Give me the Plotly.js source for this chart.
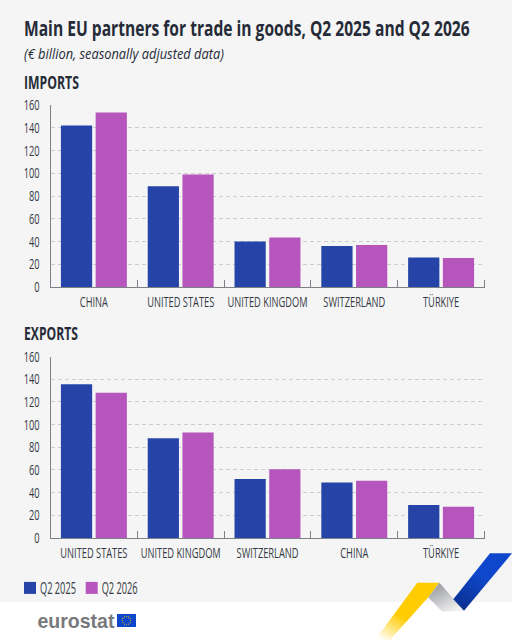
<!DOCTYPE html>
<html><head><meta charset="utf-8">
<script src="https://cdn.plot.ly/plotly-3.0.1.min.js"></script>
<style>html,body{margin:0;padding:0;background:#f5f5f5}#c{width:512px;height:640px}</style>
</head><body><div id="c"></div>
<script>
const importPartners = ["CHINA","UNITED STATES","UNITED KINGDOM","SWITZERLAND","TÜRKIYE"];
const imports2025 = [142,88.5,40,36,26];
const imports2026 = [153.5,99,43.5,37,25.5];
const exportPartners = ["UNITED STATES","UNITED KINGDOM","SWITZERLAND","CHINA","TÜRKIYE"];
const exports2025 = [135.5,88,52,49,29];
const exports2026 = [128,93,60.5,50.5,27.5];
const seriesNames = ["Q2 2025","Q2 2026"];
const yTicks = [0,20,40,60,80,100,120,140,160];

const BLUE="#2644A7", PURPLE="#B656BD", INK="#262B38", AXIS="#7d8087", GRID="#cdcdcd", LABEL="#343943";
const SANS='"Open Sans",sans-serif';
const W=512,H=640;
const px=v=>v/W, py=v=>1-v/H;
const labelFont={family:SANS,size:14.5,color:LABEL};

function bar(name,x,y,color,xa,ya,show){
  return {type:"bar",name,x,y,xaxis:xa,yaxis:ya,showlegend:show,legendgroup:name,
    marker:{color,line:{width:0}},hoverinfo:"x+y+name"};
}
const data=[
  bar(seriesNames[0],importPartners,imports2025,BLUE,"x","y",true),
  bar(seriesNames[1],importPartners,imports2026,PURPLE,"x","y",true),
  bar(seriesNames[0],exportPartners,exports2025,BLUE,"x2","y2",false),
  bar(seriesNames[1],exportPartners,exports2026,PURPLE,"x2","y2",false)
];
const xax=(anchor)=>({anchor,domain:[px(50.5),px(484.5)],type:"category",tickson:"boundaries",
  ticks:"inside",ticklen:7,tickcolor:AXIS,tickwidth:1,showline:true,linecolor:AXIS,linewidth:1,
  showgrid:false,zeroline:false,automargin:false,tickangle:0,ticklabelstandoff:2,tickfont:labelFont});
const yax=(anchor,top,bot)=>({anchor,domain:[py(bot),py(top)],range:[0,160],tickvals:yTicks,
  ticks:"",showline:true,linecolor:AXIS,linewidth:1,zeroline:false,automargin:false,
  showgrid:true,gridcolor:GRID,griddash:"4px,3px",gridwidth:1,ticklabelstandoff:7,tickfont:labelFont});

const ribbon=`<svg xmlns="http://www.w3.org/2000/svg" width="142" height="90" viewBox="370 550 142 90">
<defs>
<linearGradient id="g" x1="0.75" y1="0.05" x2="0.1" y2="1"><stop offset="0.55" stop-color="#FFCC00"/><stop offset="1" stop-color="#FFCC00" stop-opacity="0"/></linearGradient>
<linearGradient id="s" x1="0.2" y1="0.1" x2="0.75" y2="0.95"><stop offset="0" stop-color="#9c9ea3"/><stop offset="1" stop-color="#f0f0f0"/></linearGradient>
<linearGradient id="b" x1="0.75" y1="0" x2="0.15" y2="1"><stop offset="0.4" stop-color="#0E47CB"/><stop offset="1" stop-color="#0B2F8F"/></linearGradient>
</defs>
<polygon points="417.3,582.7 439.5,582.7 428.3,597.3 390,640 375,640" fill="url(#g)"/>
<polygon points="439.5,582.7 464,611 442,611.5 428.3,597.3" fill="url(#s)"/>
<polygon points="490,553.3 512,553.3 464,610.7 453.3,599.3" fill="url(#b)"/>
</svg>`;
let stars="";
[[0,-4.2],[2.1,-3.6],[3.6,-2.1],[4.2,0],[3.6,2.1],[2.1,3.6],[0,4.2],[-2.1,3.6],[-3.6,2.1],[-4.2,0],[-3.6,-2.1],[-2.1,-3.6]].forEach(p=>{stars+=`<circle cx="${9.5+p[0]}" cy="${6.5+p[1]}" r="0.55" fill="#FFCC00"/>`;});
const flag=`<svg xmlns="http://www.w3.org/2000/svg" width="19" height="13" viewBox="0 0 19 13"><rect width="19" height="13" fill="#0E47CB"/>${stars}</svg>`;
const uri=s=>"data:image/svg+xml;charset=utf-8,"+encodeURIComponent(s);

const note=(text,x,y,font)=>({text,x:px(x),y:py(y),xref:"paper",yref:"paper",xanchor:"left",yanchor:"middle",showarrow:false,font,align:"left"});
const endTick=(bot)=>({type:"line",xref:"paper",yref:"paper",x0:px(484.5),x1:px(484.5),y0:py(bot),y1:py(bot-7),line:{color:AXIS,width:1},layer:"above"});
const layout={
  width:W,height:H,margin:{l:0,r:0,t:0,b:0},paper_bgcolor:"#f5f5f5",plot_bgcolor:"rgba(0,0,0,0)",
  bargap:0.2,bargroupgap:0.1,barmode:"group",
  title:{text:"<b>Main EU partners for trade in goods, Q2 2025 and Q2 2026</b>",x:px(24),xanchor:"left",y:py(28),yanchor:"middle",
    font:{family:SANS,size:22,color:INK}},
  xaxis:xax("y"),yaxis:yax("x",105,287),xaxis2:xax("y2"),yaxis2:yax("x2",356.5,538),
  legend:{orientation:"h",x:px(9),xanchor:"left",y:py(588),yanchor:"middle",bgcolor:"rgba(0,0,0,0)",
    font:{family:SANS,size:16,color:LABEL},itemwidth:30,traceorder:"normal",itemclick:false,itemdoubleclick:false},
  annotations:[
    note("<i>(€ billion, seasonally adjusted data)</i>",24,54,{family:SANS,size:14,color:INK}),
    note("<b>IMPORTS</b>",24,82,{family:SANS,size:17,color:INK}),
    note("<b>EXPORTS</b>",24,333,{family:SANS,size:17,color:INK}),
    note("<b>eurostat</b>",37.5,620.5,{family:'"Liberation Sans",sans-serif',size:21,color:"#77797d"})
  ],
  shapes:[{type:"rect",xref:"paper",yref:"paper",x0:0,x1:1,y0:0,y1:py(602),fillcolor:"#ffffff",line:{width:0},layer:"below"},
    endTick(287),endTick(538)],
  images:[
    {source:uri(ribbon),xref:"paper",yref:"paper",x:px(370),y:py(550),sizex:142/W,sizey:90/H,xanchor:"left",yanchor:"top",sizing:"stretch",layer:"above"},
    {source:uri(flag),xref:"paper",yref:"paper",x:px(117),y:py(614),sizex:19/W,sizey:13/H,xanchor:"left",yanchor:"top",sizing:"stretch",layer:"above"}
  ]
};

// The reference uses a condensed face that is not installed: narrow the drawn text horizontally.
function narrow(el,scale,left){
  const base=el.getAttribute("transform")||"";
  const x=parseFloat(el.getAttribute("x"))||0;
  el.setAttribute("transform",`${base} translate(${x},0) scale(${scale},1) translate(${-x},0)`);
  if(left!==undefined){
    const dx=left-el.getBoundingClientRect().left;
    el.setAttribute("transform",`${base} translate(${dx},0) translate(${x},0) scale(${scale},1) translate(${-x},0)`);
  }
}
function fit(el,width,left){ narrow(el,width/el.getBoundingClientRect().width,left); }

Plotly.newPlot("c",data,layout,{displayModeBar:false}).then(gd=>{
  const q=s=>Array.from(gd.querySelectorAll(s));
  q(".xtick text, .x2tick text, .ytick text, .y2tick text").forEach(t=>narrow(t,0.64));
  q(".gtitle").forEach(t=>fit(t,446,24));
  const targets=[[200,24],[55,24],[54,24],[77,37.5]];
  q(".annotation-text").forEach((t,i)=>fit(t,targets[i][0],targets[i][1]));
  // legend: swatch lefts and text lefts as in the reference
  const swLeft=[24,85.7], txtLeft=[40,101.7];
  q(".legend .traces").forEach((g,i)=>{
    const sw=g.querySelector(".legendpoints path");
    const dx=swLeft[i]-sw.getBoundingClientRect().left;
    const m=/translate\(([-\d.]+),\s*([-\d.]+)\)/.exec(g.getAttribute("transform"));
    g.setAttribute("transform",`translate(${parseFloat(m[1])+dx},${m[2]})`);
    fit(g.querySelector(".legendtext"),36,txtLeft[i]);
  });
});
</script></body></html>
